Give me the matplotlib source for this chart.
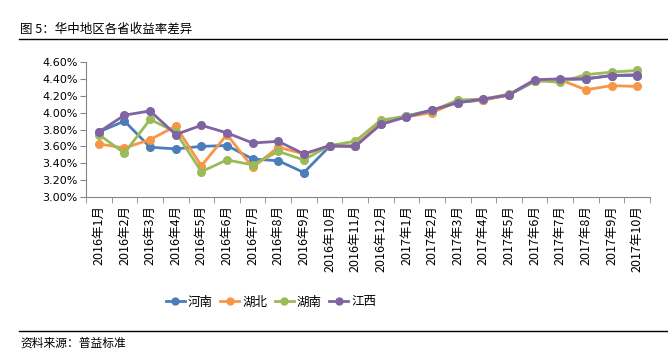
import numpy as np
import matplotlib
matplotlib.use("Agg")
from matplotlib import pyplot as plt
from matplotlib.lines import Line2D

plt.rcParams['font.family'] = ['Noto Sans CJK SC', 'DejaVu Sans']

months = ["2016年1月", "2016年2月", "2016年3月", "2016年4月", "2016年5月", "2016年6月",
          "2016年7月", "2016年8月", "2016年9月", "2016年10月", "2016年11月", "2016年12月",
          "2017年1月", "2017年2月", "2017年3月", "2017年4月", "2017年5月", "2017年6月",
          "2017年7月", "2017年8月", "2017年9月", "2017年10月"]

henan = [3.77, 3.90, 3.59, 3.57, 3.60, 3.61, 3.45, 3.43, 3.29, 3.60, 3.60, 3.87,
         3.96, 4.03, 4.12, 4.15, 4.21, 4.37, 4.39, 4.40, 4.44, 4.44]
hubei = [3.63, 3.58, 3.68, 3.84, 3.37, 3.74, 3.35, 3.59, 3.51, 3.60, 3.61, 3.88,
         3.95, 4.00, 4.13, 4.15, 4.21, 4.38, 4.39, 4.27, 4.32, 4.31]
hunan = [3.74, 3.52, 3.92, 3.77, 3.30, 3.44, 3.38, 3.54, 3.44, 3.61, 3.66, 3.91,
         3.96, 4.02, 4.15, 4.16, 4.22, 4.38, 4.36, 4.45, 4.48, 4.50]
jiangxi = [3.77, 3.97, 4.02, 3.74, 3.85, 3.76, 3.64, 3.66, 3.51, 3.61, 3.60, 3.86,
           3.95, 4.03, 4.12, 4.16, 4.21, 4.39, 4.40, 4.40, 4.44, 4.45]

series = [("河南", henan, "#4A7EBB"), ("湖北", hubei, "#F79646"),
          ("湖南", hunan, "#9BBB59"), ("江西", jiangxi, "#8064A2")]

fig = plt.figure(figsize=(6.68, 3.55), dpi=100)
W, H = 668, 355
ax = fig.add_axes([86 / W, 1 - 197 / H, (650 - 86) / W, (197 - 62) / H])

x = np.arange(len(months))
for name, vals, col in series:
    ax.plot(x, vals, color=col, lw=2, marker="o", ms=5.5, label=name)

ax.set_xlim(-0.5, len(months) - 0.5)
ax.set_ylim(3.0, 4.6)
yt = np.arange(3.0, 4.61, 0.2)
ax.set_yticks(yt)
ax.set_yticklabels(["%.2f%%" % v for v in yt], fontsize=8, family=['DejaVu Sans'])
ax.set_xticks(x)
ax.set_xticklabels(months, rotation=90, fontsize=9, va="top")
ax.set_xticks(np.arange(-0.5, len(months)), minor=True)
ax.tick_params(axis="x", which="major", length=0, pad=6)
ax.tick_params(axis="x", which="minor", length=4, color="#868686", direction="out")
ax.tick_params(axis="y", length=4, color="#868686", direction="out", pad=2)
for s in ["top", "right"]:
    ax.spines[s].set_visible(False)
for s in ["left", "bottom"]:
    ax.spines[s].set_color("#868686")

handles = [Line2D([0], [0], color=c, lw=2, marker="o", ms=5) for _, _, c in series]
fig.legend(handles, [n for n, _, _ in series], loc="center", bbox_to_anchor=(271 / W, 1 - 302 / H),
           ncol=4, frameon=False, fontsize=9, handlelength=1.5, columnspacing=0.6, handletextpad=0.25)

fig.text(20 / W, 1 - 29 / H, "图 5：华中地区各省收益率差异", fontsize=9, va="center", ha="left")
fig.add_artist(Line2D([19 / W, 1], [1 - 39 / H] * 2, color="black", lw=1))
fig.add_artist(Line2D([19 / W, 1], [1 - 331 / H] * 2, color="black", lw=1))
fig.text(20 / W, 1 - 343 / H, "资料来源：普益标准", fontsize=8.5, va="center", ha="left")

fig.savefig("out.png", dpi=100)
